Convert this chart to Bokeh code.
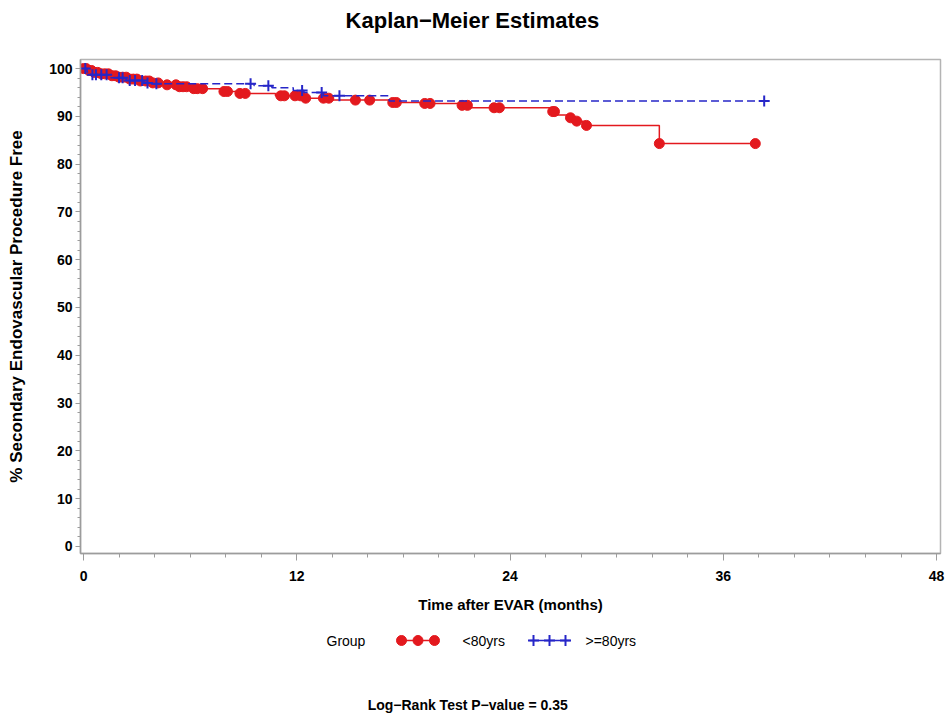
import numpy as np
from bokeh.plotting import figure
from bokeh.layouts import column
from bokeh.models import Range1d, FixedTicker
from bokeh.core.properties import value
from bokeh.embed import file_html
from bokeh.resources import INLINE

# ---------------- data ----------------
title_text = "Kaplan\u2212Meier  Estimates"
x_label = "Time after EVAR (months)"
y_label = "% Secondary Endovascular Procedure Free"
group_title = "Group"
group_names = ["<80yrs", ">=80yrs"]
footnote = "Log\u2212Rank  Test  P\u2212value  =  0.35"

x_ticks = [0, 12, 24, 36, 48]
y_ticks = [0, 10, 20, 30, 40, 50, 60, 70, 80, 90, 100]

# <80yrs : step function (time in months, % free)
red_time = [0, 0.3, 0.6, 1.0, 1.5, 2.0, 2.6, 3.2, 3.8, 4.5, 5.3, 6.2, 7.8, 8.6,
            10.8, 12.4, 14.0, 17.2, 19.0, 21.3, 21.7, 26.3, 26.6, 27.3, 27.7,
            28.2, 32.4, 37.8]
red_surv = [100, 99.6, 99.2, 98.9, 98.5, 98.2, 97.8, 97.4, 97.0, 96.6, 96.2,
            95.8, 95.2, 94.8, 94.3, 93.8, 93.4, 92.9, 92.7, 92.3, 91.8, 91.0,
            90.3, 89.7, 89.0, 88.1, 84.3, 84.3]
red_cens = [0.0, 0.15, 0.3, 0.45, 0.6, 0.8, 1.0, 1.2, 1.4, 1.6, 1.8, 2.0, 2.2,
            2.4, 2.6, 2.8, 3.0, 3.2, 3.5, 3.7, 3.9, 4.2, 4.7, 5.2, 5.4, 5.6,
            5.8, 6.2, 6.4, 6.7, 7.9, 8.1, 8.8, 9.1, 11.1, 11.3, 11.9, 12.2,
            12.5, 13.5, 13.8, 15.3, 16.1, 17.4, 17.6, 19.2, 19.5, 21.3, 21.6,
            23.1, 23.4, 26.4, 26.5, 27.4, 27.75, 28.3, 32.4, 37.8]

# >=80yrs
blue_time = [0, 0.2, 0.4, 1.5, 2.4, 3.4, 3.8, 9.6, 10.6, 11.8, 12.4, 13.5,
             17.2, 38.3]
blue_surv = [100, 99.3, 98.7, 98.1, 97.5, 97.0, 96.8, 96.4, 96.0, 95.4, 95.0,
             94.3, 93.2, 93.2]
blue_cens = [0.1, 0.5, 0.7, 1.0, 1.3, 2.0, 2.2, 2.6, 2.9, 3.3, 3.6, 4.1, 9.4,
             10.4, 12.3, 13.4, 14.4, 38.3]


def step_lookup(times, surv, t):
    idx = np.searchsorted(np.asarray(times), np.asarray(t), side="right") - 1
    return np.asarray(surv)[idx]


red_cens_y = step_lookup(red_time, red_surv, red_cens)
blue_cens_y = step_lookup(blue_time, blue_surv, blue_cens)

# ---------------- style ----------------
RED = "#E3191E"
BLUE = "#2626C8"
GREY = "#9C9C9C"
FONT = "Liberation Sans"

W = 945
TITLE_H = 40
MAIN_H = 585
LEG_H = 88
FRAME_L, FRAME_R = 80, 940   # page pixels of the plot frame (shared by column)


def blank_panel(h):
    f = figure(width=W, height=h, x_range=Range1d(FRAME_L, FRAME_R),
               y_range=Range1d(h, 0), output_backend="svg",
               toolbar_location=None, x_axis_type=None, y_axis_type=None,
               min_border=0, min_border_left=FRAME_L,
               min_border_right=W - FRAME_R)
    f.outline_line_color = None
    f.xgrid.visible = False
    f.ygrid.visible = False
    f.background_fill_color = "white"
    f.border_fill_color = "white"
    return f


# ---------------- title panel ----------------
t = blank_panel(TITLE_H)
t.text(x=[475], y=[20], text=[title_text], text_font=value(FONT),
       text_font_size=value("22px"), text_font_style="bold",
       text_align="center", text_baseline="middle", text_color="black")

# ---------------- main plot ----------------
p = figure(width=W, height=MAIN_H, x_range=Range1d(-0.17, 48.22),
           y_range=Range1d(-1.5, 101.9), output_backend="svg",
           toolbar_location=None, min_border_left=FRAME_L,
           min_border_right=W - FRAME_R,
           min_border_top=59 - TITLE_H,
           min_border_bottom=TITLE_H + MAIN_H - 553)
p.background_fill_color = "white"
p.border_fill_color = "white"
p.outline_line_color = "#B4B4B4"
p.outline_line_width = 1.5
p.xgrid.visible = False
p.ygrid.visible = False

p.xaxis.ticker = FixedTicker(ticks=x_ticks, minor_ticks=list(range(0, 49, 2)))
p.yaxis.ticker = FixedTicker(ticks=y_ticks, minor_ticks=list(range(0, 101, 2)))
for ax in (p.xaxis[0], p.yaxis[0]):
    ax.axis_line_color = GREY
    ax.axis_line_width = 1.5
    ax.major_tick_line_color = GREY
    ax.minor_tick_line_color = GREY
    ax.major_tick_in = 0
    ax.minor_tick_in = 0
    ax.major_label_text_font = FONT
    ax.major_label_text_font_style = "bold"
    ax.major_label_text_font_size = "14px"
    ax.major_label_text_color = "black"
    ax.axis_label_text_font = FONT
    ax.axis_label_text_font_style = "bold"
    ax.axis_label_text_color = "black"

p.xaxis.major_tick_out = 7
p.xaxis.minor_tick_out = 4
p.xaxis.major_label_standoff = 10
p.xaxis.axis_label = x_label
p.xaxis.axis_label_text_font_size = "15px"
p.xaxis.axis_label_standoff = 12

p.yaxis.major_tick_out = 5
p.yaxis.minor_tick_out = 3
p.yaxis.major_label_standoff = 3
p.yaxis.axis_label = y_label
p.yaxis.axis_label_text_font_size = "17px"
p.yaxis.axis_label_standoff = 20

p.step(red_time, red_surv, mode="after", line_color=RED, line_width=1.5)
p.scatter(red_cens, red_cens_y, marker="circle", size=10, fill_color=RED,
          line_color=RED)
p.step(blue_time, blue_surv, mode="after", line_color=BLUE, line_width=1.5,
       line_dash="8 4")
p.scatter(blue_cens, blue_cens_y, marker="cross", size=11, line_color=BLUE,
          line_width=2)

# ---------------- legend / footnote panel ----------------
q = blank_panel(LEG_H)
ly = 15
q.text(x=[326], y=[ly], text=[group_title], text_font=value(FONT),
       text_font_size=value("14px"), text_baseline="middle", text_color="black")
q.line([397, 438], [ly, ly], line_color=RED, line_width=1.5)
q.scatter([401, 417.5, 434], [ly] * 3, marker="circle", size=10,
          fill_color=RED, line_color=RED)
q.text(x=[462], y=[ly], text=[group_names[0]], text_font=value(FONT),
       text_font_size=value("14px"), text_baseline="middle", text_color="black")
q.line([529, 570], [ly, ly], line_color=BLUE, line_width=1.5)
q.scatter([533, 549, 565], [ly] * 3, marker="cross", size=11,
          line_color=BLUE, line_width=2)
q.text(x=[585], y=[ly], text=[group_names[1]], text_font=value(FONT),
       text_font_size=value("14px"), text_baseline="middle", text_color="black")
q.text(x=[475], y=[79], text=[footnote], text_font=value(FONT),
       text_font_size=value("14px"), text_font_style="bold",
       text_align="center", text_baseline="middle", text_color="black")

layout = column(t, p, q, spacing=0)
open("out.html", "w").write(file_html(layout, INLINE))
